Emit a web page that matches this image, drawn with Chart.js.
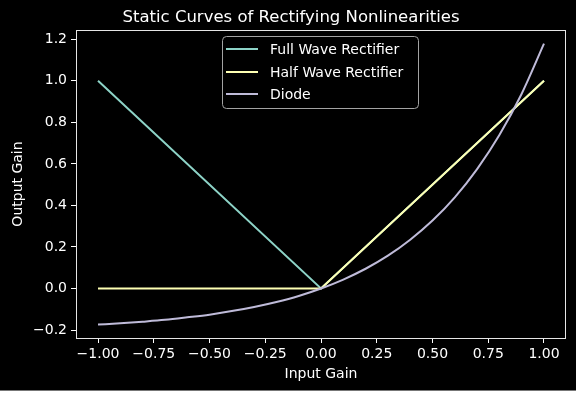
<!DOCTYPE html>
<html>
<head>
<meta charset="utf-8">
<script src="https://cdn.jsdelivr.net/npm/chart.js@4/dist/chart.umd.min.js"></script>
<style>
  html, body { margin: 0; padding: 0; background: #ffffff; }
  #wrap { width: 576px; height: 390px; border-bottom: 1px solid #777; }
  canvas { display: block; }
</style>
</head>
<body>
<div id="wrap"><canvas id="c" width="576" height="390"></canvas></div>
<script>
// Input gain samples and output gain for each rectifier
const fullWaveX = [-1.0, 0.0, 1.0];
const fullWaveY = [1.0, 0.0, 1.0];

const halfWaveX = [-1.0, 0.0, 1.0];
const halfWaveY = [0.0, 0.0, 1.0];

const diodeX = [-1.0, -0.9, -0.8, -0.7, -0.6, -0.5, -0.4, -0.3, -0.2, -0.1, 0.0,
                0.1, 0.2, 0.3, 0.4, 0.5, 0.6, 0.7, 0.8, 0.9, 1.0];
const diodeY = [-0.174, -0.168, -0.160, -0.151, -0.139, -0.126, -0.109, -0.089, -0.065, -0.036, 0.0,
                0.043, 0.095, 0.158, 0.235, 0.327, 0.439, 0.575, 0.739, 0.938, 1.179];

const seriesNames = ['Full Wave Rectifier', 'Half Wave Rectifier', 'Diode'];
const seriesColors = ['#8dd3c7', '#feffb3', '#bfbbd9'];

const xTicks = [-1.0, -0.75, -0.5, -0.25, 0.0, 0.25, 0.5, 0.75, 1.0];
const xTickLabels = ['\u22121.00', '\u22120.75', '\u22120.50', '\u22120.25', '0.00', '0.25', '0.50', '0.75', '1.00'];
const yTicks = [-0.2, 0.0, 0.2, 0.4, 0.6, 0.8, 1.0, 1.2];
const yTickLabels = ['\u22120.2', '0.0', '0.2', '0.4', '0.6', '0.8', '1.0', '1.2'];

const titleText = 'Static Curves of Rectifying Nonlinearities';
const xAxisTitle = 'Input Gain';
const yAxisTitle = 'Output Gain';

const FONT = '"DejaVu Sans", "Liberation Sans", sans-serif';

function pairs(xs, ys) { return xs.map((x, i) => ({ x: x, y: ys[i] })); }

// Background, frame, title, axis titles and legend
const decorations = {
  id: 'decorations',
  beforeDraw(chart) {
    const ctx = chart.ctx;
    ctx.save();
    ctx.fillStyle = '#000000';
    ctx.fillRect(0, 0, chart.width, chart.height);
    ctx.restore();
  },
  afterDraw(chart) {
    const ctx = chart.ctx;
    const a = chart.chartArea;
    ctx.save();
    // axes frame
    ctx.strokeStyle = '#e6e6e6';
    ctx.lineWidth = 1;
    ctx.strokeRect(Math.round(a.left) + 0.5, Math.round(a.top) + 0.5,
                   Math.round(a.right - a.left) - 1, Math.round(a.bottom - a.top));

    ctx.fillStyle = '#ffffff';
    // title
    ctx.font = '16.5px ' + FONT;
    ctx.textAlign = 'center';
    ctx.textBaseline = 'alphabetic';
    ctx.fillText(titleText, 291, 22);

    // axis titles
    ctx.font = '14px ' + FONT;
    ctx.textBaseline = 'middle';
    ctx.fillText(xAxisTitle, (a.left + a.right) / 2, 374);
    ctx.save();
    ctx.translate(18, (a.top + a.bottom) / 2);
    ctx.rotate(-Math.PI / 2);
    ctx.fillText(yAxisTitle, 0, 0);
    ctx.restore();

    // legend
    const lx = 222.5, ly = 36.5, lw = 196, lh = 72, r = 4;
    ctx.beginPath();
    ctx.moveTo(lx + r, ly);
    ctx.lineTo(lx + lw - r, ly);
    ctx.arcTo(lx + lw, ly, lx + lw, ly + r, r);
    ctx.lineTo(lx + lw, ly + lh - r);
    ctx.arcTo(lx + lw, ly + lh, lx + lw - r, ly + lh, r);
    ctx.lineTo(lx + r, ly + lh);
    ctx.arcTo(lx, ly + lh, lx, ly + lh - r, r);
    ctx.lineTo(lx, ly + r);
    ctx.arcTo(lx, ly, lx + r, ly, r);
    ctx.closePath();
    ctx.fillStyle = 'rgba(0,0,0,0.8)';
    ctx.fill();
    ctx.strokeStyle = '#a3a3a3';
    ctx.lineWidth = 1;
    ctx.stroke();

    const rows = [49, 72, 94];
    ctx.textAlign = 'left';
    ctx.textBaseline = 'middle';
    ctx.font = '14px ' + FONT;
    chart.data.datasets.forEach((ds, i) => {
      ctx.strokeStyle = ds.borderColor;
      ctx.lineWidth = 2;
      ctx.beginPath();
      ctx.moveTo(226, rows[i]);
      ctx.lineTo(258, rows[i]);
      ctx.stroke();
      ctx.fillStyle = '#ffffff';
      ctx.fillText(ds.label, 270, rows[i] + 1);
    });
    ctx.restore();
  }
};

const datasets = [
  { label: seriesNames[0], data: pairs(fullWaveX, fullWaveY), borderColor: seriesColors[0], order: 3 },
  { label: seriesNames[1], data: pairs(halfWaveX, halfWaveY), borderColor: seriesColors[1], order: 2 },
  { label: seriesNames[2], data: pairs(diodeX, diodeY), borderColor: seriesColors[2], order: 1,
    cubicInterpolationMode: 'monotone' }
].map(d => Object.assign(d, {
  showLine: true, pointRadius: 0, borderWidth: 2, fill: false,
  backgroundColor: d.borderColor
}));

new Chart(document.getElementById('c'), {
  type: 'scatter',
  data: { datasets: datasets },
  plugins: [decorations],
  options: {
    responsive: false,
    animation: false,
    devicePixelRatio: 1,
    layout: { padding: { top: 30, right: 10, left: 0, bottom: 0 } },
    plugins: { legend: { display: false }, title: { display: false }, tooltip: { enabled: false } },
    scales: {
      x: {
        type: 'linear',
        min: -1.0987, max: 1.0987,
        afterBuildTicks(scale) { scale.ticks = xTicks.map(v => ({ value: v })); },
        afterFit(scale) { scale.height = 52; },
        ticks: {
          color: '#ffffff',
          font: { family: FONT, size: 14 },
          padding: 3,
          maxRotation: 0,
          autoSkip: false,
          callback: (v) => { const i = xTicks.findIndex(t => Math.abs(t - v) < 1e-9); return i >= 0 ? xTickLabels[i] : ''; }
        },
        grid: { drawOnChartArea: false, drawTicks: true, tickLength: 5, color: '#ffffff', lineWidth: 1 },
        border: { display: false }
      },
      y: {
        type: 'linear',
        min: -0.2385, max: 1.2448,
        afterBuildTicks(scale) { scale.ticks = yTicks.map(v => ({ value: v })); },
        afterFit(scale) { scale.width = 76; },
        ticks: {
          color: '#ffffff',
          font: { family: FONT, size: 14 },
          padding: 4,
          autoSkip: false,
          callback: (v) => { const i = yTicks.findIndex(t => Math.abs(t - v) < 1e-9); return i >= 0 ? yTickLabels[i] : ''; }
        },
        grid: { drawOnChartArea: false, drawTicks: true, tickLength: 5, color: '#ffffff', lineWidth: 1 },
        border: { display: false }
      }
    }
  }
});
</script>
</body>
</html>
